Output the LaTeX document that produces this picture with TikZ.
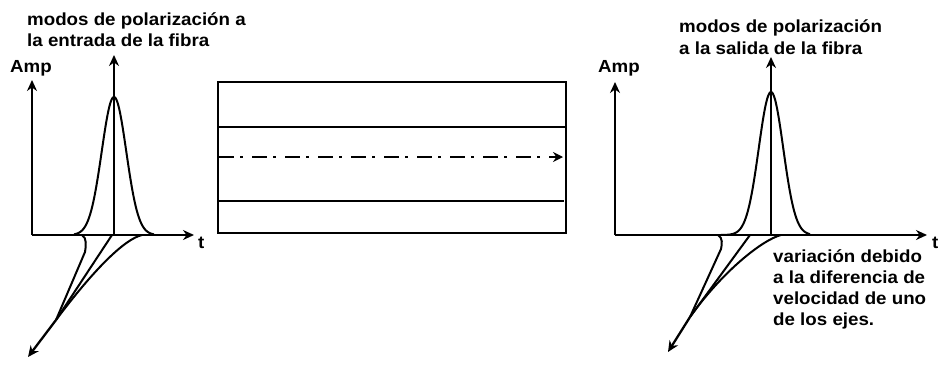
\documentclass[tikz,border=0pt]{standalone}
\usepackage{fontspec}
\newfontfamily\labelfont{Liberation Sans}[FakeStretch=1.07]
\usetikzlibrary{arrows.meta}
\begin{document}
\begin{tikzpicture}[x=1pt,y=-1pt,
  axis/.style={line width=2.3pt,-{Stealth[length=11pt,width=10pt]}},
  curve/.style={line width=2pt,line join=round},
  fiberline/.style={line width=2.6pt},
  coreline/.style={line width=2.6pt,dash pattern=on 15pt off 6pt on 3pt off 9pt,
                   -{Stealth[length=10pt,width=10pt]}},
  txt/.style={anchor=base west,inner sep=0pt,
              font=\labelfont\bfseries\fontsize{17.5}{21}\selectfont}]
\useasboundingbox (0,0) rectangle (942,364);
\fill[white] (0,0) rectangle (942,364);

% ---------- input pulse ----------
\coordinate (O1) at (32,235);
\coordinate (A1) at (32,80);
\coordinate (T1) at (194,235);
\coordinate (P1) at (114,235);
\coordinate (P1top) at (114,55);
\coordinate (C1) at (56,320);
\coordinate (D1) at (28,357);
\draw[axis] (O1) -- (A1);
\draw[axis] (O1) -- (T1);
\draw[axis] (P1) -- (P1top);
\draw[axis] (C1) -- (D1);
\draw[curve] plot[domain=74:154,samples=80,smooth] (\x,{235-138*exp(-((\x-114)^2)/300)});
\draw[curve] (82,235) .. controls (87,238) and (86,246) .. (85,252) -- (C1);
\draw[curve] (112,235) -- (C1);
\draw[curve] (142,235) .. controls (125,239) and (95,268) .. (C1);
\node[txt] (amp1) at (10,72) {Amp};
\node[txt] (t1) at (198,248) {t};
\node[txt] (in1) at (27,25) {modos de polarización a};
\node[txt] (in2) at (27,46) {la entrada de la fibra};

% ---------- fibre ----------
\coordinate (F1) at (218,82);
\coordinate (F2) at (566,233);
\coordinate (Ua) at (218,127);
\coordinate (Ub) at (566,127);
\coordinate (La) at (218,201);
\coordinate (Lb) at (564,201);
\coordinate (Ka) at (219,157);
\coordinate (Kb) at (563,157);
\draw[fiberline] (F1) rectangle (F2);
\draw[line width=1.8pt] (Ua) -- (Ub);
\draw[fiberline] (La) -- (Lb);
\draw[coreline] (Ka) -- (Kb);

% ---------- output pulse ----------
\coordinate (O2) at (615,235);
\coordinate (A2) at (615,82);
\coordinate (T2) at (927,235);
\coordinate (P2) at (771,235);
\coordinate (P2top) at (771,57);
\coordinate (C2) at (690,317);
\coordinate (D2) at (668,352);
\draw[axis] (O2) -- (A2);
\draw[axis] (O2) -- (T2);
\draw[axis] (P2) -- (P2top);
\draw[axis] (C2) -- (D2);
\draw[curve] plot[domain=721:810,samples=80,smooth] (\x,{235-143*exp(-((\x-771)^2)/300)});
\draw[curve] (718,235) .. controls (723,238) and (722,244) .. (721,249) -- (C2);
\draw[curve] (750,235) -- (C2);
\draw[curve] (781,235) .. controls (762,240) and (722,272) .. (C2);
\node[txt] (amp2) at (598,72) {Amp};
\node[txt] (t2) at (932,248) {t};
\node[txt] (out1) at (679,32) {modos de polarización};
\node[txt] (out2) at (679,54) {a la salida de la fibra};
\node[txt] (v1) at (773,262) {variación debido};
\node[txt] (v2) at (773,283) {a la diferencia de};
\node[txt] (v3) at (773,304) {velocidad de uno};
\node[txt] (v4) at (773,325) {de los ejes.};
\end{tikzpicture}
\end{document}
